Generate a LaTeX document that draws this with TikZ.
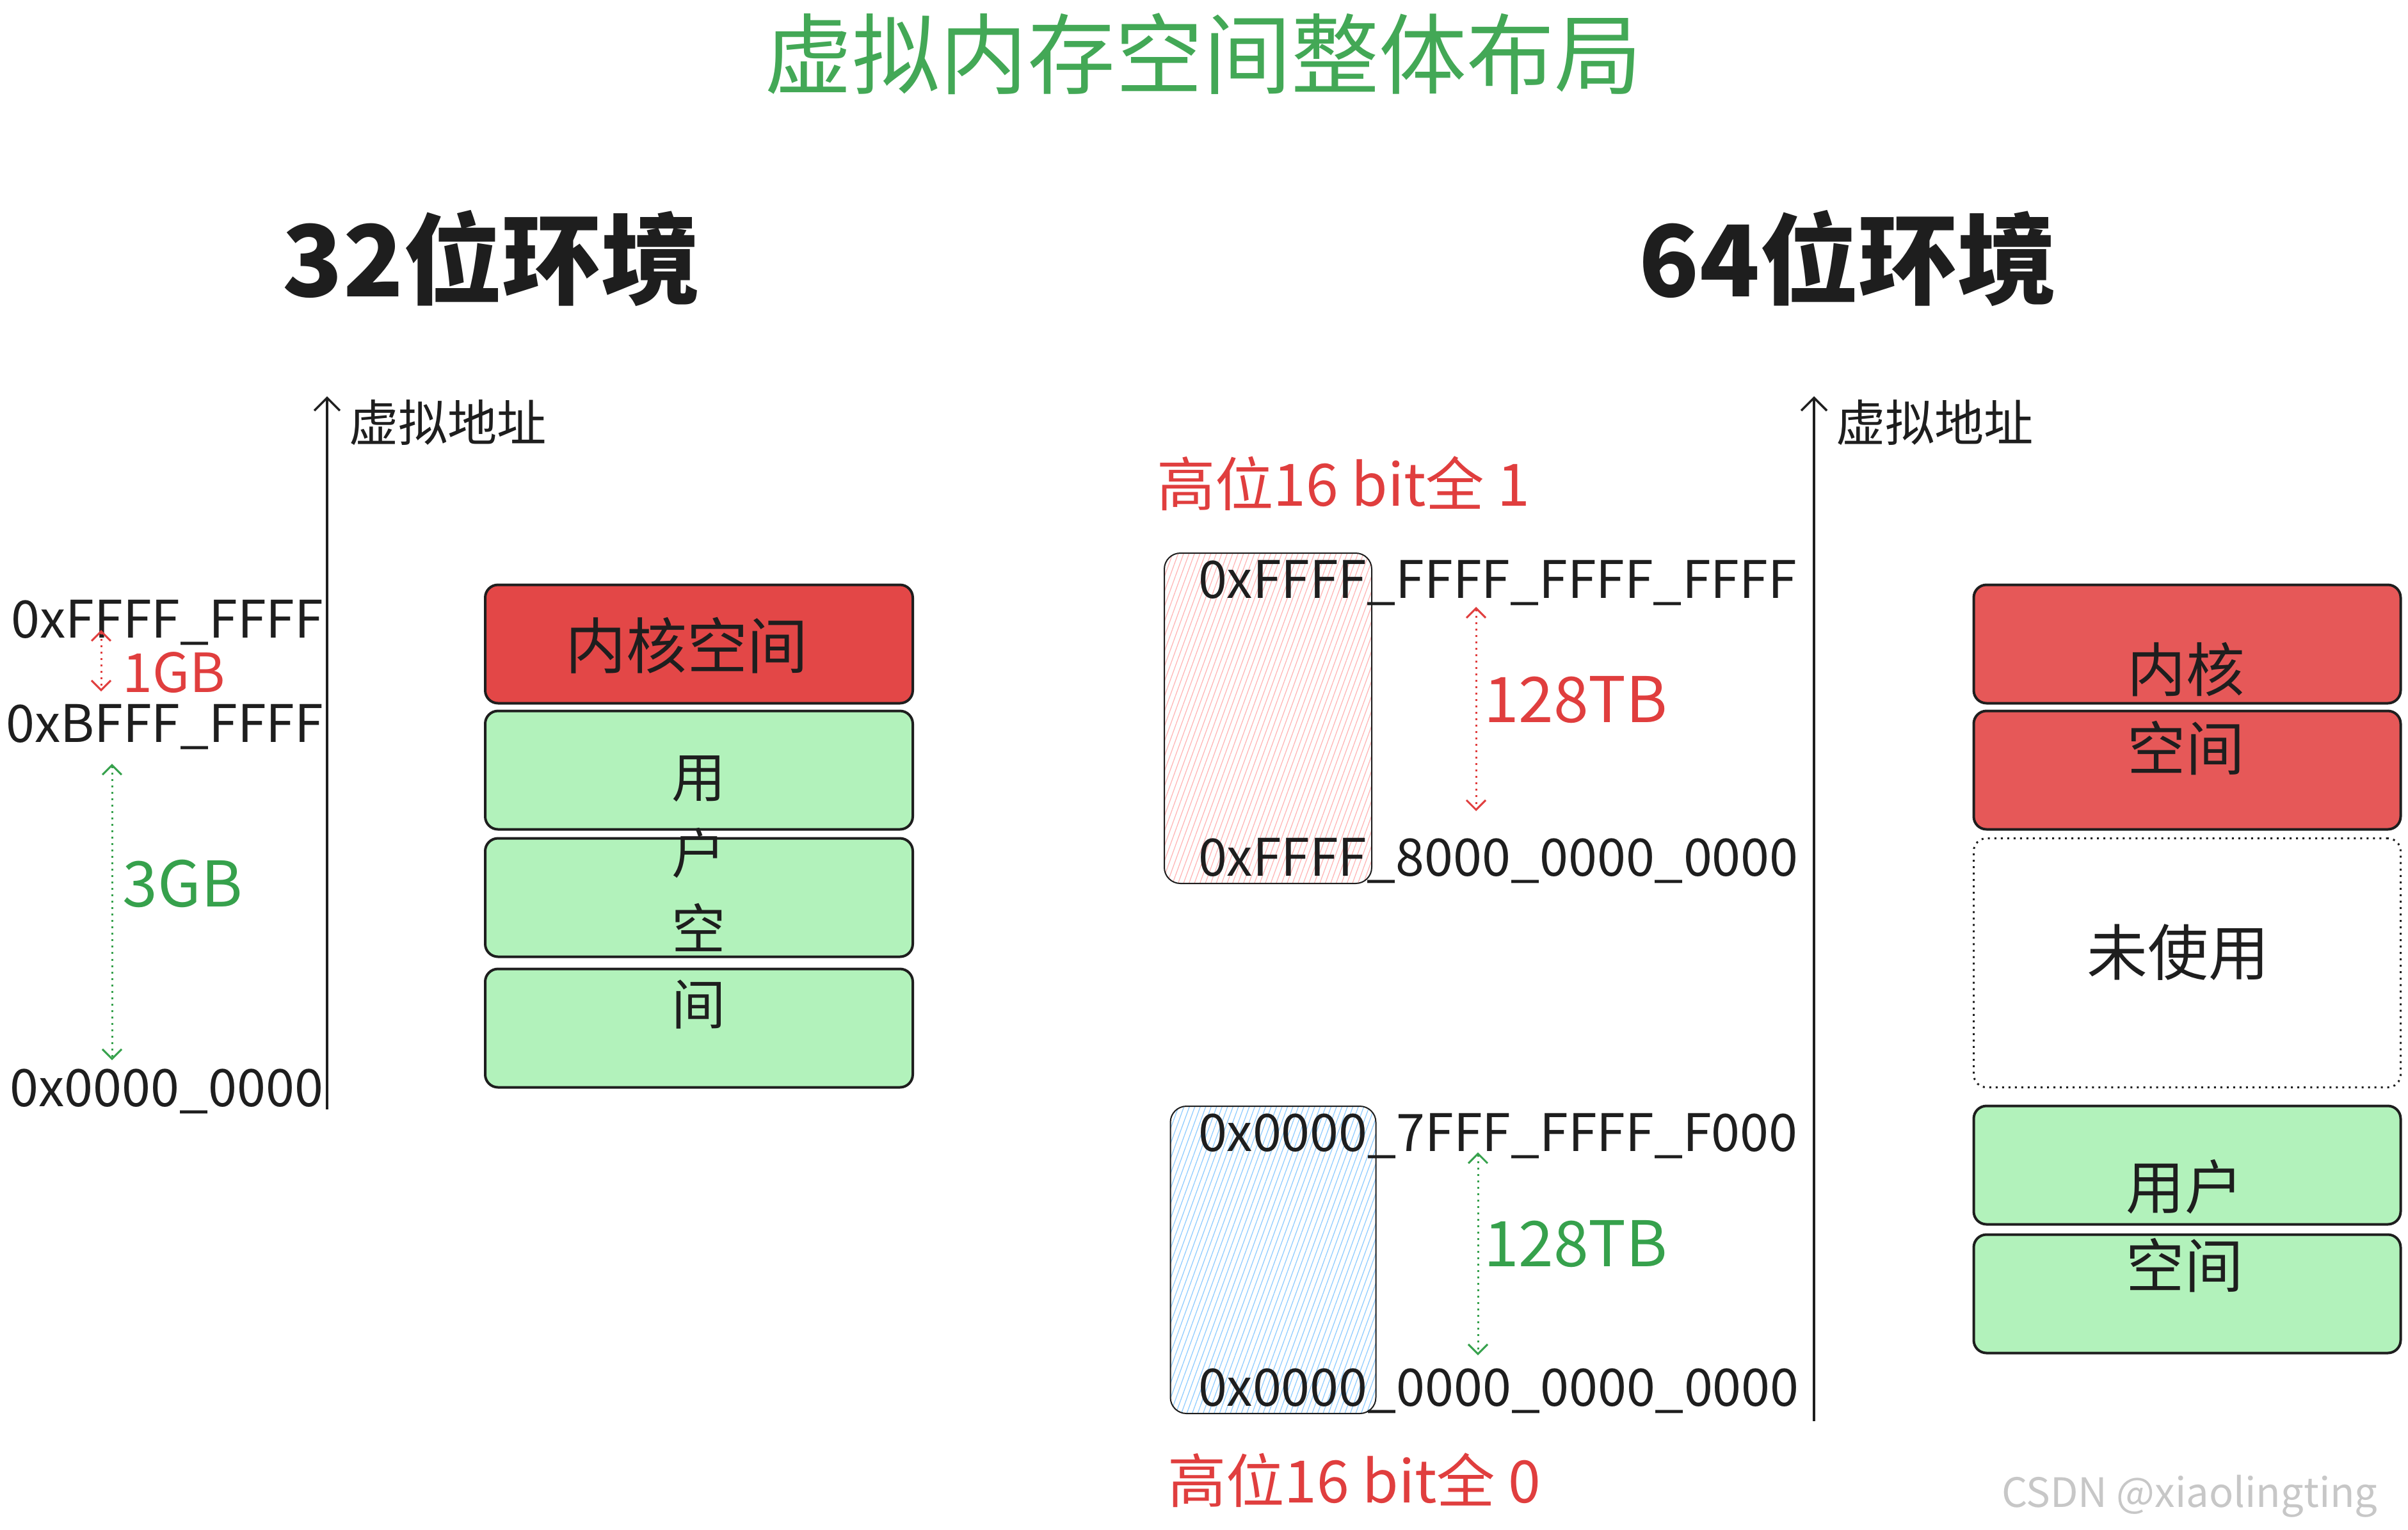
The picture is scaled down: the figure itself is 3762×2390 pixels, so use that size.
\documentclass[tikz,border=0pt]{standalone}
\usepackage{fontspec}
\setmainfont{Noto Sans CJK SC}
\usetikzlibrary{arrows.meta,patterns.meta}
\definecolor{inkcolor}{HTML}{1E1E1E}
\definecolor{titlegreen}{HTML}{43A856}
\definecolor{sizegreen}{HTML}{36A14C}
\definecolor{sizered}{HTML}{E03E3E}
\definecolor{kernelred}{HTML}{E34747}
\definecolor{kernelredlight}{HTML}{E65858}
\definecolor{usergreen}{HTML}{B2F2BB}
\definecolor{hatchpink}{HTML}{FFB3B3}
\definecolor{hatchblue}{HTML}{8CCBFF}
\newcommand{\segnode}[5]{\node[#1, minimum width=#2] (#3) at (#4) {#5};}
\newcommand{\addrnode}[4]{\node[addr, anchor=#1] (#2) at (#3) {#4};}
\tikzstyle{every node}=[inner sep=0, outer sep=0]
\tikzstyle{segbox}=[draw=inkcolor, line width=0.4mm, rounded corners=2mm, minimum height=18.5mm]
\tikzstyle{kernelseg}=[segbox, fill=kernelred]
\tikzstyle{kernelseglight}=[segbox, fill=kernelredlight]
\tikzstyle{userseg}=[segbox, fill=usergreen]
\tikzstyle{freeseg}=[draw=inkcolor, line width=0.3mm, dotted, rounded corners=2mm, minimum height=38.9mm]
\tikzstyle{hatchbox}=[draw=inkcolor, line width=0.2mm, rounded corners=2.5mm]
\tikzstyle{addr}=[font=\fontsize{23}{28}\selectfont, text=inkcolor]
\tikzstyle{boxtext}=[font=\fontsize{26}{35}\selectfont, text=inkcolor, align=center]
\tikzstyle{heading}=[font=\fontsize{44}{50}\selectfont\bfseries, text=inkcolor]
\tikzstyle{axislabel}=[font=\fontsize{22}{26}\selectfont, text=inkcolor, anchor=west]
\tikzstyle{sizelabel}=[font=\fontsize{28}{32}\selectfont, anchor=mid west]
\tikzstyle{sizearrow}=[{Straight Barb[length=1.5mm]}-{Straight Barb[length=1.5mm]}, line width=0.3mm, dotted]
\tikzstyle{axis}=[-{Straight Barb[length=2mm]}, line width=0.35mm, draw=inkcolor]

\begin{document}
\begin{tikzpicture}[x=0.1mm, y=-0.1mm]
\useasboundingbox (0,0) rectangle (3762,2390);

% titles
\node[font=\fontsize{39}{44}\selectfont, text=titlegreen] (title) at (1880,84) {虚拟内存空间整体布局};
\node[heading] (head32) at (768,403) {32位环境};
\node[heading] (head64) at (2887,403) {64位环境};

% 32-bit layout
\coordinate (axis32lo) at (511,1733);
\coordinate (axis32hi) at (511,619);
\draw[axis] (axis32lo) -- (axis32hi);
\node[axislabel] (va32) at (545,660) {虚拟地址};

\addrnode{mid east}{top32}{505,987}{0xFFFF\_FFFF}
\addrnode{mid east}{split32}{505,1150}{0xBFFF\_FFFF}
\addrnode{mid east}{low32}{505,1719}{0x0000\_0000}

\coordinate (gbhi) at (158,984);
\coordinate (gblo) at (158,1080);
\draw[sizearrow, sizered] (gbhi) -- (gblo);
\node[sizelabel, font=\fontsize{24}{28}\selectfont, text=sizered] (gb1) at (192,1072) {1GB};
\coordinate (gbbhi) at (175,1193);
\coordinate (gbblo) at (175,1656);
\draw[sizearrow, sizegreen] (gbbhi) -- (gbblo);
\node[sizelabel, text=sizegreen] (gb3) at (192,1407) {3GB};

\segnode{kernelseg}{66.8mm}{kern32}{1092,1006}{}
\segnode{userseg}{66.8mm}{usera32}{1092,1203}{}
\segnode{userseg}{66.8mm}{userb32}{1092,1402}{}
\segnode{userseg}{66.8mm}{userc32}{1092,1606}{}
\node[boxtext, font=\fontsize{27}{32}\selectfont] (kerntext32) at (1073,1008) {内核空间};
\node[boxtext, font=\fontsize{24}{33.6}\selectfont] (usertext32) at (1092,1394) {用\\户\\空\\间};

% 64-bit layout
\coordinate (axis64lo) at (2834,2220);
\coordinate (axis64hi) at (2834,619);
\draw[axis] (axis64lo) -- (axis64hi);
\node[axislabel] (va64) at (2868,660) {虚拟地址};

\node[font=\fontsize{26}{30}\selectfont, text=sizered, anchor=mid west] (high1) at (1807,781) {高位16 bit全 1};
\node[font=\fontsize{26}{30}\selectfont, text=sizered, anchor=mid west] (high0) at (1824,2338) {高位16 bit全 0};

\node[hatchbox, preaction={fill=white}, pattern={Lines[angle=70,distance=0.8mm,line width=0.12mm]}, pattern color=hatchpink,
  minimum width=32.4mm, minimum height=51.6mm] (hiregion) at (1981,1122) {};
\node[hatchbox, preaction={fill=white}, pattern={Lines[angle=70,distance=0.8mm,line width=0.12mm]}, pattern color=hatchblue,
  minimum width=32.1mm, minimum height=48mm] (loregion) at (1989,1968) {};

\addrnode{mid west}{top64}{1872,925}{0xFFFF\_FFFF\_FFFF\_FFFF}
\addrnode{mid west}{kbase64}{1872,1359}{0xFFFF\_8000\_0000\_0000}
\addrnode{mid west}{utop64}{1872,1789}{0x0000\_7FFF\_FFFF\_F000}
\addrnode{mid west}{low64}{1872,2187}{0x0000\_0000\_0000\_0000}

\coordinate (tbhi) at (2306,948);
\coordinate (tblo) at (2306,1267);
\draw[sizearrow, sizered] (tbhi) -- (tblo);
\node[sizelabel, text=sizered] (tbk) at (2318,1119) {128TB};
\coordinate (tbbhi) at (2309,1800);
\coordinate (tbblo) at (2309,2117);
\draw[sizearrow, sizegreen] (tbbhi) -- (tbblo);
\node[sizelabel, text=sizegreen] (tbu) at (2318,1969) {128TB};

\segnode{kernelseglight}{66.7mm}{kerna64}{3417,1006}{}
\segnode{kernelseglight}{66.7mm}{kernb64}{3417,1203}{}
\segnode{freeseg}{66.7mm}{free64}{3417,1504}{}
\segnode{userseg}{66.7mm}{usera64}{3417,1820}{}
\segnode{userseg}{66.7mm}{userb64}{3417,2021}{}
\node[boxtext] (kerntext64) at (3415,1107) {内核\\空间};
\node[boxtext, font=\fontsize{27}{32}\selectfont] (freetext64) at (3403,1488) {未使用};
\node[boxtext] (usertext64) at (3413,1915) {用户\\空间};

\node[font=\fontsize{18}{22}\selectfont, text=black!22, anchor=mid west] (mark) at (3127,2345) {CSDN @xiaolingting};
\end{tikzpicture}
\end{document}
